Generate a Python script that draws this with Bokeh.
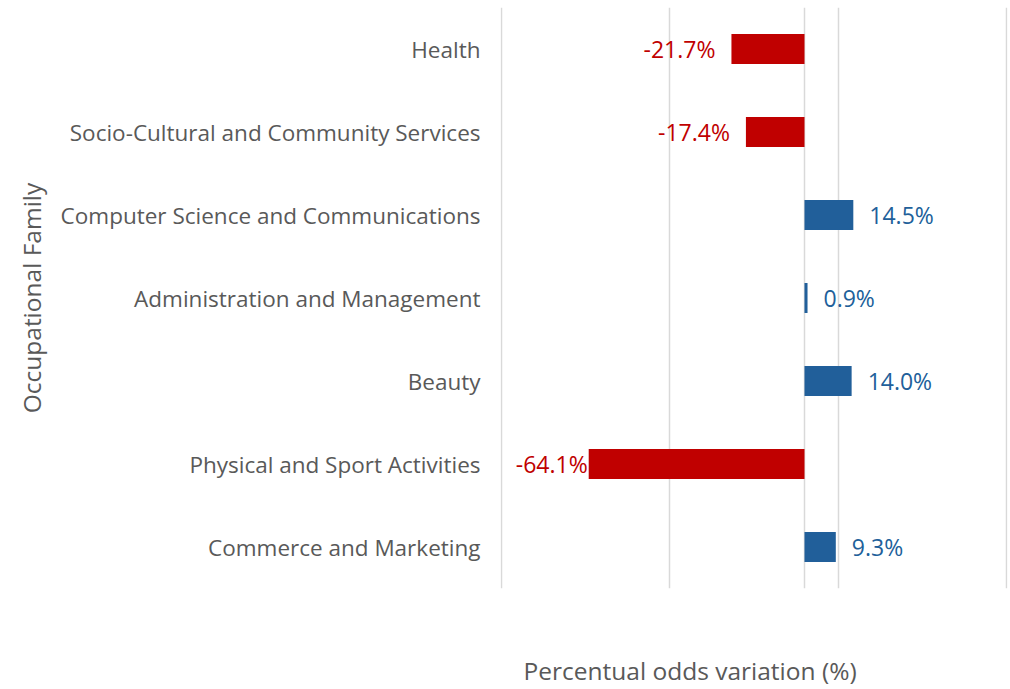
from bokeh.plotting import figure
from bokeh.models import ColumnDataSource, FactorRange, FixedTicker, Range1d, Title
from bokeh.core.properties import value
from bokeh.embed import file_html
from bokeh.resources import INLINE

categories = ["Health", "Socio-Cultural and Community Services",
              "Computer Science and Communications", "Administration and Management",
              "Beauty", "Physical and Sport Activities", "Commerce and Marketing"]
values = [-21.7, -17.4, 14.5, 0.9, 14.0, -64.1, 9.3]
grid_ticks = [-90, -40, 0, 10, 60]

FONT = "Open Sans"
RED = "#C00000"
BLUE = "#215F9A"
X_MIN, X_MAX = -90.3, 60.3

colors = [RED if v < 0 else BLUE for v in values]
# labels that would run past the left edge are tucked against the bar end
offsets = []
for v in values:
    if v >= 0:
        offsets.append(16)
    elif v < -60:
        offsets.append(-1)
    else:
        offsets.append(-16)

src = ColumnDataSource(dict(
    cat=categories, val=values, color=colors,
    label=[f"{v:.1f}%" for v in values],
    off=offsets,
    align=["right" if v < 0 else "left" for v in values],
))

p = figure(width=1008, height=688, output_backend="svg", toolbar_location=None,
           y_range=FactorRange(factors=list(reversed(categories))),
           x_range=Range1d(X_MIN, X_MAX),
           min_border_left=500, min_border_right=1, min_border_top=7, min_border_bottom=0)
p.outline_line_color = None

p.hbar(y="cat", left=0, right="val", height=0.36, color="color", line_color=None, source=src)
p.text(x="val", y="cat", text="label", x_offset="off", text_align="align",
       text_baseline="middle", text_color="color", text_font=value(FONT),
       text_font_size="23px", source=src)

p.xgrid.ticker = FixedTicker(ticks=grid_ticks)
p.xgrid.grid_line_color = "#D9D9D9"
p.xgrid.grid_line_width = 1.5
p.ygrid.grid_line_color = None

# x axis kept invisible; it only reserves the space above the title
p.xaxis.ticker = FixedTicker(ticks=[])
p.xaxis.major_tick_out = 0
p.xaxis.major_tick_in = 0
p.xaxis.major_label_standoff = 0
p.xaxis.major_label_text_font_size = "0px"
p.xaxis.axis_line_color = None
p.xaxis.axis_label = "."
p.xaxis.axis_label_text_alpha = 0
p.xaxis.axis_label_text_font_size = "20px"
p.xaxis.axis_label_standoff = 48

xtitle = Title(text="Percentual odds variation (%)", align="left", offset=23,
               vertical_align="top", standoff=0,
               text_font=FONT, text_font_style="normal",
               text_font_size="24.5px", text_color="#595959")
p.add_layout(xtitle, "below")

p.yaxis.axis_line_color = None
p.yaxis.major_tick_line_color = None
p.yaxis.minor_tick_line_color = None
p.yaxis.major_label_text_font = FONT
p.yaxis.major_label_text_font_size = "22.5px"
p.yaxis.major_label_text_color = "#595959"
p.yaxis.major_label_standoff = 14
p.yaxis.axis_label = "Occupational Family"
p.yaxis.axis_label_text_font = FONT
p.yaxis.axis_label_text_font_style = "normal"
p.yaxis.axis_label_text_font_size = "24.5px"
p.yaxis.axis_label_text_color = "#595959"
p.yaxis.axis_label_standoff = 10

open("out.html", "w").write(file_html(p, INLINE))
